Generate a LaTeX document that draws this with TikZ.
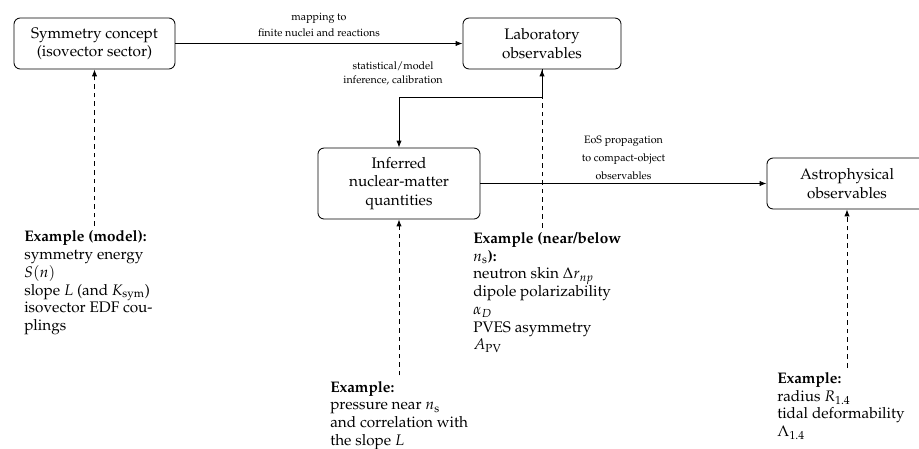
\documentclass[tikz,border=0pt]{standalone}
\usepackage[T1]{fontenc}
\usepackage{mathpazo}
\usetikzlibrary{arrows.meta,calc}
\tikzset{
  box/.style={draw, line width=0.55pt, rounded corners=4pt, align=center, font=\normalsize, inner sep=2pt},
  lbl/.style={font=\scriptsize, align=center, inner sep=0pt},
  ann/.style={align=left, anchor=north west, inner sep=3pt, font=\fontsize{10}{11.6}\selectfont},
  arr/.style={line width=0.55pt, -{Latex[length=4.5pt,width=3.4pt]}},
  dasharr/.style={line width=0.55pt, dash pattern=on 3pt off 2.6pt, -{Latex[length=4.5pt,width=3.4pt]}}
}
\begin{document}
\begin{tikzpicture}[x=0.6536pt, y=-0.6536pt]
\useasboundingbox (0,0) rectangle (919,448);

\node[box, minimum width=105.2pt, minimum height=33.3pt] (sym) at (94.5,43.5) {Symmetry concept\\(isovector sector)};
\node[box, minimum width=103.3pt, minimum height=33.3pt] (lab) at (542,43.5) {Laboratory\\observables};
\node[box, minimum width=105.9pt, minimum height=46.4pt] (inf) at (399,183.5) {Inferred\\nuclear-matter\\quantities};
\node[box, minimum width=104.6pt, minimum height=33.3pt] (ast) at (847,183.5) {Astrophysical\\observables};

\draw[arr] (sym.east) -- node[lbl, yshift=12.1pt] (maplbl) {mapping to\\[2.5pt]finite nuclei and reactions} (lab.west);
\draw[arr] (lab.south) -- ++(0,28) -| (inf.north);
\node[lbl] (statlbl) at (393,73.5) {statistical/model\\[0.5pt]inference, calibration};
\draw[arr] (inf.east) -- node[lbl, yshift=16.6pt] (eoslbl) {EoS propagation\\[3.6pt]to compact-object\\[3.6pt]observables} (ast.west);

\node[ann] (a1) at (19.4,226) {\textbf{Example (model):}\\symmetry energy\\$S(n)$\\slope $L$ (and $K_{\mathrm{sym}}$)\\isovector EDF cou-\\plings};
\node[ann] (a2) at (468.4,227.5) {\textbf{Example (near/below}\\$n_{\mathrm{s}}$\textbf{):}\\neutron skin $\Delta r_{np}$\\dipole polarizability\\$\alpha_D$\\PVES asymmetry\\$A_{\mathrm{PV}}$};
\node[ann, inner ysep=0.5pt] (a3) at (325.4,380) {\textbf{Example:}\\pressure near $n_{\mathrm{s}}$\\and correlation with\\the slope $L$};
\node[ann] (a4) at (772.4,367.5) {\textbf{Example:}\\radius $R_{1.4}$\\tidal deformability\\$\Lambda_{1.4}$};

\draw[dasharr] (a1.north -| sym.south) -- (sym.south);
\draw[dasharr] (a2.north -| lab.south) -- (lab.south);
\draw[dasharr] ([yshift=3pt]a3.north -| inf.south) -- (inf.south);
\draw[dasharr] (a4.north -| ast.south) -- (ast.south);
\end{tikzpicture}
\end{document}
